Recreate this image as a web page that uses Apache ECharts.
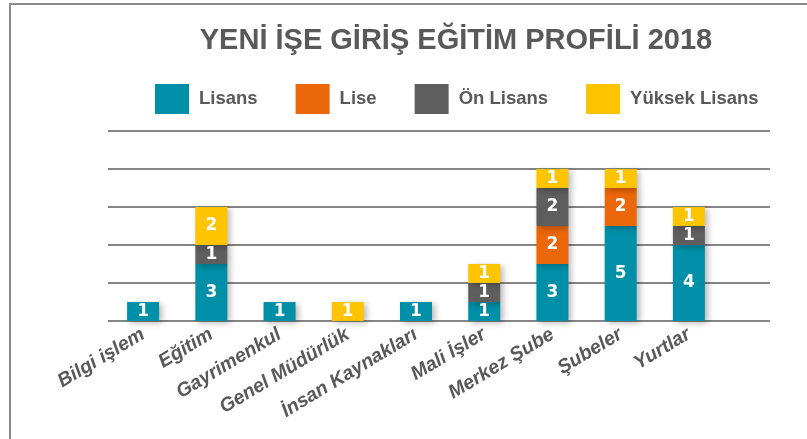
<!DOCTYPE html>
<html>
<head>
<meta charset="utf-8">
<script src="https://cdn.jsdelivr.net/npm/echarts@6/dist/echarts.min.js"></script>
<style>
html,body{margin:0;padding:0;background:#fff;}
#chart{width:807px;height:439px;}
</style>
</head>
<body>
<div id="chart"></div>
<script>
const titleText = 'YENİ İŞE GİRİŞ EĞİTİM PROFİLİ 2018';
const categories = ['Bilgi işlem','Eğitim','Gayrimenkul','Genel Müdürlük','İnsan Kaynakları','Mali İşler','Merkez Şube','Şubeler','Yurtlar'];
const seriesNames = ['Lisans','Lise','Ön Lisans','Yüksek Lisans'];
const lisans       = [1, 3, 1, null, 1, 1, 3, 5, 4];
const lise         = [null, null, null, null, null, null, 2, 2, null];
const onLisans     = [null, 1, null, null, null, 1, 2, null, 1];
const yuksekLisans = [null, 2, null, 1, null, 1, 1, 1, 1];
const yTicks = {min: 0, max: 10, interval: 2};
const colors = ['#008FA8', '#EB6709', '#5E5E5E', '#FFC400'];

const seriesData = [lisans, lise, onLisans, yuksekLisans];
const chart = echarts.init(document.getElementById('chart'), null, {renderer: 'canvas'});

const series = seriesData.map((d, i) => ({
  name: seriesNames[i],
  type: 'bar',
  stack: 'total',
  xAxisIndex: 1,
  yAxisIndex: 1,
  barWidth: 32,
  data: d,
  itemStyle: {
    color: colors[i],
    shadowColor: 'rgba(0,0,0,0.28)',
    shadowBlur: 6,
    shadowOffsetX: 3,
    shadowOffsetY: 2
  },
  label: {
    show: true,
    position: 'inside',
    color: '#ffffff',
    fontFamily: 'DejaVu Sans',
    fontWeight: 'bold',
    fontSize: 17
  }
}));

chart.setOption({
  animation: false,
  backgroundColor: '#ffffff',
  graphic: [
    {type: 'rect', shape: {x: 10, y: 4, width: 900, height: 600},
     style: {fill: 'none', stroke: '#8a8a8a', lineWidth: 2}, z: -10},
    {type: 'text', x: 456, y: 41, style: {text: titleText, fill: '#595959',
      font: 'bold 29px "Liberation Sans"', textAlign: 'center', textVerticalAlign: 'middle'}}
  ],
  legend: {
    data: seriesNames,
    left: 155,
    top: 84,
    padding: 0,
    itemWidth: 34,
    itemHeight: 30,
    itemGap: 38,
    icon: 'rect',
    textStyle: {
      color: '#595959',
      fontFamily: 'Liberation Sans',
      fontWeight: 'bold',
      fontSize: 18.5,
      padding: [12, 0, 0, 5]
    }
  },
  grid: [
    {left: 108, top: 131, width: 662, height: 190},
    {left: 109, top: 131, width: 614, height: 190}
  ],
  xAxis: [
    {gridIndex: 0, type: 'value', show: false},
    {gridIndex: 1, type: 'category', data: categories,
     axisLine: {show: false}, axisTick: {show: false},
     axisLabel: {rotate: 31, margin: 12, color: '#595959', fontFamily: 'Liberation Sans',
       fontStyle: 'italic', fontWeight: 'bold', fontSize: 19.5, interval: 0}}
  ],
  yAxis: [
    {gridIndex: 0, type: 'value', min: yTicks.min, max: yTicks.max, interval: yTicks.interval,
     axisLine: {show: false}, axisTick: {show: false}, axisLabel: {show: false},
     splitLine: {show: true, lineStyle: {color: '#858585', width: 2}}},
    {gridIndex: 1, type: 'value', min: yTicks.min, max: yTicks.max, interval: yTicks.interval,
     show: false, splitLine: {show: false}}
  ],
  series: series
});
</script>
</body>
</html>
